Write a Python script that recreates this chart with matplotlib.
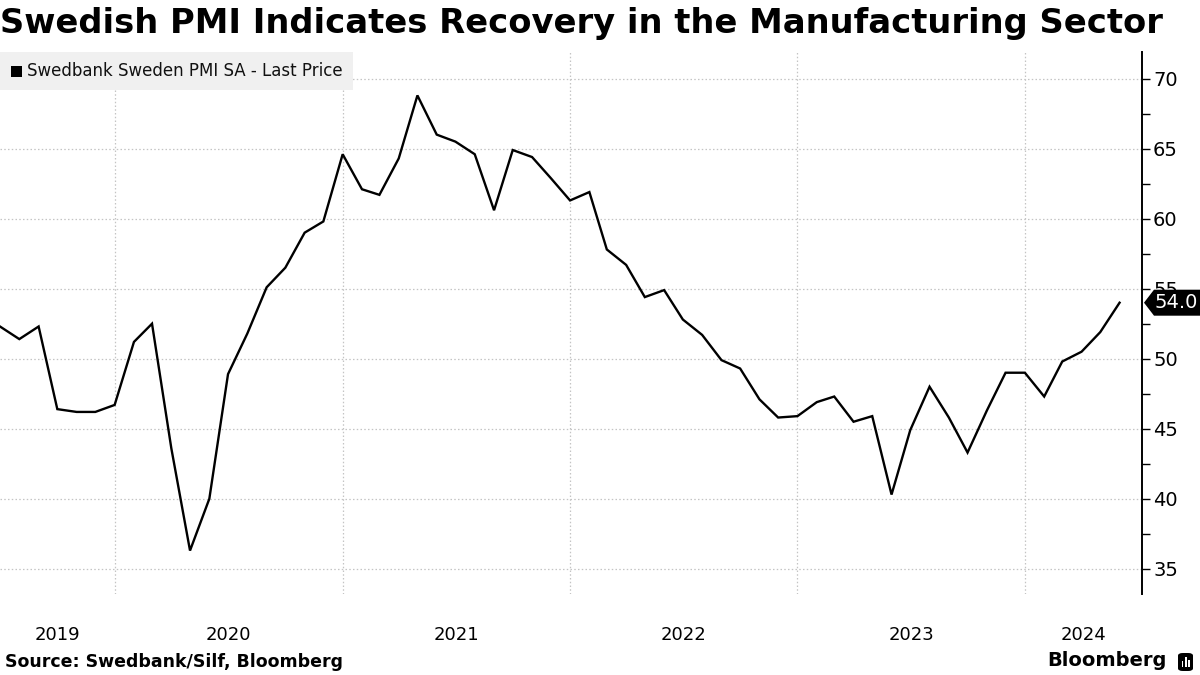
import matplotlib
matplotlib.use("Agg")
import matplotlib.pyplot as plt
import matplotlib.dates as mdates
from matplotlib.patches import Rectangle, Polygon, FancyBboxPatch
import pandas as pd

# ---- data ----
start_month = "2019-07-01"
pmi = [
    52.3, 51.4, 52.3, 46.4, 46.2, 46.2,                # 2019 Jul-Dec
    46.7, 51.2, 52.5, 43.6, 36.3, 40.0,                # 2020 Jan-Jun
    48.9, 51.8, 55.1, 56.5, 59.0, 59.8,                # 2020 Jul-Dec
    64.6, 62.1, 61.7, 64.3, 68.8, 66.0,                # 2021 Jan-Jun
    65.5, 64.6, 60.6, 64.9, 64.4, 62.9,                # 2021 Jul-Dec
    61.3, 61.9, 57.8, 56.7, 54.4, 54.9,                # 2022 Jan-Jun
    52.8, 51.7, 49.9, 49.3, 47.1, 45.8,                # 2022 Jul-Dec
    45.9, 46.9, 47.3, 45.5, 45.9, 40.3,                # 2023 Jan-Jun
    44.9, 48.0, 45.8, 43.3, 46.3, 49.0,                # 2023 Jul-Dec
    49.0, 47.3, 49.8, 50.5, 51.9, 54.0,                # 2024 Jan-Jun
]
months = pd.date_range(start_month, periods=len(pmi), freq="MS")
year_labels = ["2019", "2020", "2021", "2022", "2023", "2024"]
y_ticks = [35, 40, 45, 50, 55, 60, 65, 70]
series_name = "Swedbank Sweden PMI SA - Last Price"
title = "Swedish PMI Indicates Recovery in the Manufacturing Sector"
source = "Source: Swedbank/Silf, Bloomberg"

# ---- figure ----
W, H = 1200, 675
fig = plt.figure(figsize=(W / 100, H / 100), dpi=100)
ax = fig.add_axes([0.0, 1 - 594 / H, 1142 / W, (594 - 52) / H])

ax.plot(months, pmi, color="black", lw=1.7, zorder=3, solid_joinstyle="miter")

x0 = pd.Timestamp("2019-07-01")
x1 = pd.Timestamp("2024-07-07")
ax.set_xlim(x0, x1)
ax.set_ylim(33.2, 71.9)

# y axis on the right
ax.yaxis.tick_right()
ax.set_yticks(y_ticks)
ax.set_yticks([v + 2.5 for v in y_ticks[:-1]], minor=True)
ax.tick_params(axis="y", which="major", length=6, width=1, direction="out",
               labelsize=14, pad=2, colors="black")
ax.tick_params(axis="y", which="minor", length=6, width=1, direction="out")
for s in ["left", "top", "bottom"]:
    ax.spines[s].set_visible(False)
ax.spines["right"].set_linewidth(1.4)

# x axis: year boundaries as gridlines, labels centered in visible year spans
bounds = [pd.Timestamp(f"{y}-01-01") for y in range(2020, 2025)]
ax.set_xticks(bounds)
ax.set_xticklabels([""] * len(bounds))
edges = [x0] + bounds + [x1]
centers = [edges[i] + (edges[i + 1] - edges[i]) / 2 for i in range(len(edges) - 1)]
ax.set_xticks(centers, minor=True)
ax.set_xticklabels(year_labels, minor=True)
ax.tick_params(axis="x", which="both", length=0, labelsize=13, pad=23)

ax.grid(True, which="major", axis="both", color="#c4c4c4", lw=0.9,
        linestyle=(0, (1.2, 1.8)))
ax.set_axisbelow(True)

# legend box
fig.add_artist(Rectangle((0, 1 - 90 / H), 353 / W, 38 / H, transform=fig.transFigure,
                         facecolor="#f0f0f0", edgecolor="none", zorder=5))
fig.add_artist(Rectangle((11 / W, 1 - 77 / H), 11 / W, 11 / H, transform=fig.transFigure,
                         facecolor="black", edgecolor="none", zorder=6))
fig.text(27 / W, 1 - 71 / H, series_name, fontsize=12, va="center", ha="left",
         color="#111111", zorder=7)

# title and footer
fig.text(0.0, 1 - 24 / H, title, fontsize=24.3, fontweight="bold", va="center",
         ha="left", color="black")
fig.text(5 / W, 1 - 662 / H, source, fontsize=12.5, fontweight="bold", va="center",
         ha="left", color="black")
fig.text(1167 / W, 1 - 661 / H, "Bloomberg", fontsize=14, fontweight="bold",
         va="center", ha="right", color="black")
fig.add_artist(FancyBboxPatch((1178 / W, 1 - 671 / H), 15 / W, 18 / H,
                              boxstyle="round,pad=0,rounding_size=0.004",
                              transform=fig.transFigure, facecolor="black",
                              edgecolor="none", zorder=6))
for k, hgt in enumerate([6, 10, 7]):
    fig.add_artist(Rectangle(((1181.5 + k * 3.2) / W, 1 - 667 / H), 1.8 / W, hgt / H,
                             transform=fig.transFigure, facecolor="white",
                             edgecolor="none", zorder=7))

# last value tag
fig.canvas.draw()
last = pmi[-1]
_, yd = ax.transData.transform((mdates.date2num(months[-1]), last))
tip_x = 1144
poly = [(tip_x, yd), (tip_x + 10, yd + 13), (W, yd + 13), (W, yd - 13),
        (tip_x + 10, yd - 13)]
fig.add_artist(Polygon(poly, closed=True, transform=None, facecolor="black",
                       edgecolor="none", zorder=8, clip_on=False))
fig.text(1176 / W, yd / H, f"{last:.1f}", fontsize=14, color="white",
         va="center", ha="center", zorder=9)

fig.savefig("out.png", dpi=100)
